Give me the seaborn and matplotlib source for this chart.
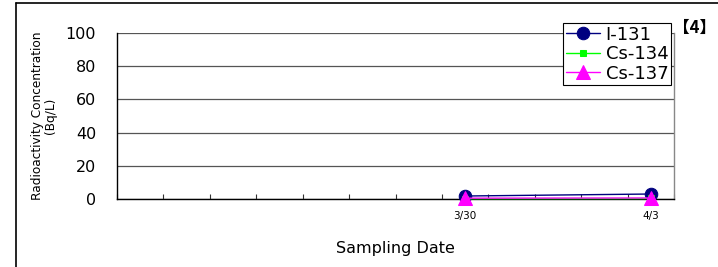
import matplotlib
matplotlib.use("Agg")

import matplotlib.pyplot as plt
import seaborn as sns
import pandas as pd

# data
dates = ["2011-03-30", "2011-04-03"]
date_labels = ["3/30", "4/3"]
i131 = [1.8, 3.0]
cs134 = [0.2, 0.3]
cs137 = [0.5, 0.6]
nuclides = ["I-131", "Cs-134", "Cs-137"]
axis_start = "2011-03-23"
axis_end = "2011-04-03"

df = pd.DataFrame({
    "date": pd.to_datetime(dates * 3),
    "value": i131 + cs134 + cs137,
    "nuclide": [n for n in nuclides for _ in dates],
})

sns.set_style("white")
plt.rcParams["font.family"] = ["DejaVu Sans", "Noto Sans CJK JP"]
plt.rcParams["text.color"] = "black"
plt.rcParams["axes.labelcolor"] = "black"
plt.rcParams["xtick.color"] = "black"
plt.rcParams["ytick.color"] = "black"

fig = plt.figure(figsize=(7.18, 2.67), dpi=100)
ax = fig.add_axes([0.163, 0.2547, 0.7757, 0.6217])

palette = {"I-131": "#000080", "Cs-134": "#00FF00", "Cs-137": "#FF00FF"}
markers = {"I-131": "o", "Cs-134": "s", "Cs-137": "^"}
sizes = {"I-131": 9, "Cs-134": 4.5, "Cs-137": 10}

for name in nuclides:
    sub = df[df["nuclide"] == name]
    sns.lineplot(
        data=sub, x="date", y="value", ax=ax,
        color=palette[name], marker=markers[name],
        markersize=sizes[name], markeredgecolor=palette[name],
        linewidth=1.0, label=name, clip_on=False, zorder=3,
    )

half = pd.Timedelta(hours=12)
start = pd.Timestamp(axis_start)
end = pd.Timestamp(axis_end)
ax.set_xlim(start - half, end + half)
ax.set_ylim(0, 100)
ax.set_yticks([0, 20, 40, 60, 80, 100])
ax.yaxis.grid(True, color="#555555", linewidth=0.9)
ax.set_axisbelow(True)

bounds = pd.date_range(start - half, end + half, freq="D")
ax.set_xticks(pd.to_datetime(dates))
ax.set_xticklabels(date_labels, fontsize=7.5)
ax.set_xticks(bounds, minor=True)
ax.tick_params(axis="x", which="major", bottom=True, length=0, pad=9)
ax.tick_params(axis="x", which="minor", bottom=True, direction="in",
               length=3.5, width=0.8, color="#333333")
ax.tick_params(axis="y", labelsize=11.5, length=0, pad=15)

for s in ["left", "bottom"]:
    ax.spines[s].set_color("black")
    ax.spines[s].set_linewidth(1.0)
ax.spines["right"].set_color("#888888")
ax.spines["right"].set_linewidth(1.0)
ax.spines["top"].set_visible(False)

ax.set_xlabel("Sampling Date", fontsize=11.5, labelpad=14)
ax.set_ylabel("Radioactivity Concentration\n(Bq/L)", fontsize=8.7,
              labelpad=6, linespacing=1.05)

leg = ax.legend(
    loc="upper right", bbox_to_anchor=(0.9946, 1.06), frameon=True,
    fancybox=False, shadow=False, fontsize=13, handlelength=1.9,
    handletextpad=0.3, borderpad=0.15, labelspacing=0.08, borderaxespad=0,
)
leg.get_frame().set_edgecolor("black")
leg.get_frame().set_linewidth(0.8)
leg.get_frame().set_alpha(1)

fig.text(0.998, 0.895, "【4】", fontsize=12, fontweight="bold",
         family=["Noto Sans CJK JP"], va="center", ha="right")

# outer frame
fig.add_artist(plt.Line2D([0.0223, 0.0223], [0.0, 0.99], color="black", linewidth=1.2))
fig.add_artist(plt.Line2D([0.0223, 1.0], [0.99, 0.99], color="black", linewidth=1.2))

fig.savefig("out.png", dpi=100)
